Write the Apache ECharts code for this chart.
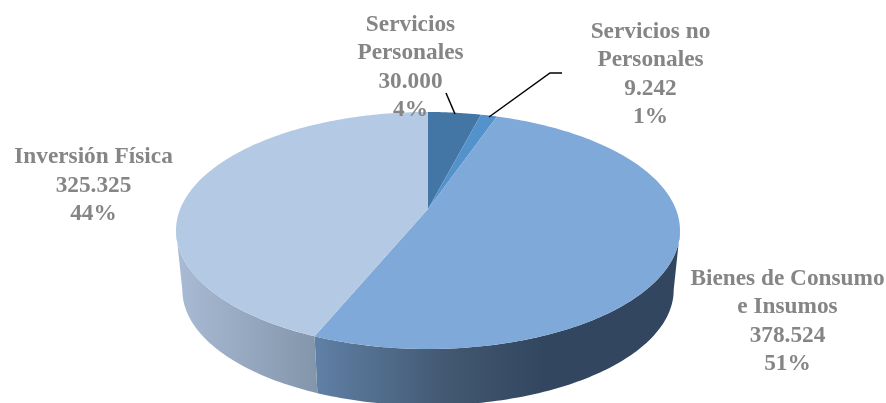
<!DOCTYPE html>
<html><head><meta charset="utf-8">
<style>html,body{margin:0;padding:0;background:#fff}#c{width:886px;height:403px}</style>
<script src="https://cdn.jsdelivr.net/npm/echarts@6/dist/echarts.min.js"></script>
</head><body><div id="c"></div>
<script>
const categories = ['Servicios\nPersonales', 'Servicios no\nPersonales', 'Bienes de Consumo\ne Insumos', 'Inversión Física'];
const values = [30000, 9242, 378524, 325325];

const topColors = ['#4375a5', '#5492cb', '#7fa9d8', '#b4c9e4'];
const sideStops = [
  null, null,
  {x0: 318, x1: 545, stops: [[0, '#5f7fa4'], [0.6, '#41566f'], [1, '#324660']]},
  {x0: 178, x1: 318, stops: [[0, '#a9bbd4'], [1, '#8395aa']]}
];
const labelPos = [[410.5, 67.5], [650.5, 74.5], [787.5, 321.5], [93.5, 185.5]];
const leaders = [
  [[446, 93], [455, 114]],
  [[562, 73], [550, 73], [489, 117]]
];

const geo = {cx: 428, apexY: 209, R: 247.8, a: 114.6, k: 0.1814, s: 0.975, baseY: 269};
const total = values.reduce((p, c) => p + c, 0);
const widest = Math.acos(-geo.k) * 180 / Math.PI;

function project(deg, bottom) {
  const t = deg * Math.PI / 180, u = Math.sin(t), v = -Math.cos(t);
  const d = 1 - geo.k * v, s = bottom ? geo.s : 1, y0 = bottom ? geo.baseY : geo.apexY;
  return [geo.cx + s * geo.R * u / d, y0 + s * geo.a * v / d];
}
function arc(a0, a1, bottom) {
  const pts = [], n = Math.max(2, Math.ceil(Math.abs(a1 - a0)));
  for (let i = 0; i <= n; i++) pts.push(project(a0 + (a1 - a0) * i / n, bottom));
  return pts;
}
function angles(i) {
  let sum = 0;
  for (let j = 0; j < i; j++) sum += values[j];
  return [sum / total * 360, (sum + values[i]) / total * 360];
}
const fmt = v => String(v).replace(/\B(?=(\d{3})+$)/g, '.');
const rows = values.map((v, i) => [v, i]);

const chart = echarts.init(document.getElementById('c'), null, {renderer: 'canvas'});
chart.setOption({
  animation: false,
  backgroundColor: '#fff',
  series: [
    {
      type: 'custom', coordinateSystem: 'none', silent: true, data: rows,
      renderItem(p, api) {
        const i = api.value(1), [a0, a1] = angles(i);
        const lo = Math.max(a0, widest), hi = Math.min(a1, 360 - widest);
        if (hi <= lo || !sideStops[i]) return {type: 'group', children: []};
        const g = sideStops[i];
        const fill = new echarts.graphic.LinearGradient(g.x0, 0, g.x1, 0,
          g.stops.map(s => ({offset: s[0], color: s[1]})), true);
        return {
          type: 'polygon',
          shape: {points: arc(lo, hi, false).concat(arc(hi, lo, true))},
          style: {fill}
        };
      }
    },
    {
      type: 'custom', coordinateSystem: 'none', silent: true, data: rows,
      renderItem(p, api) {
        const i = api.value(1), [a0, a1] = angles(i);
        return {
          type: 'polygon',
          shape: {points: [[geo.cx, geo.apexY]].concat(arc(a0, a1, false))},
          style: {fill: topColors[i]}
        };
      }
    },
    {
      type: 'custom', coordinateSystem: 'none', silent: true, data: rows,
      renderItem(p, api) {
        const i = api.value(1);
        const pct = Math.round(values[i] / total * 100);
        const children = [{
          type: 'text',
          style: {
            x: labelPos[i][0], y: labelPos[i][1],
            text: categories[i] + '\n' + fmt(values[i]) + '\n' + pct + '%',
            fill: '#858585',
            font: 'bold 23.3px "Liberation Serif"',
            lineHeight: 28.6,
            align: 'center', verticalAlign: 'middle'
          }
        }];
        if (leaders[i]) children.push({
          type: 'polyline',
          shape: {points: leaders[i]},
          style: {stroke: '#000', lineWidth: 1.5, fill: null}
        });
        return {type: 'group', children};
      }
    }
  ]
});
</script></body></html>
